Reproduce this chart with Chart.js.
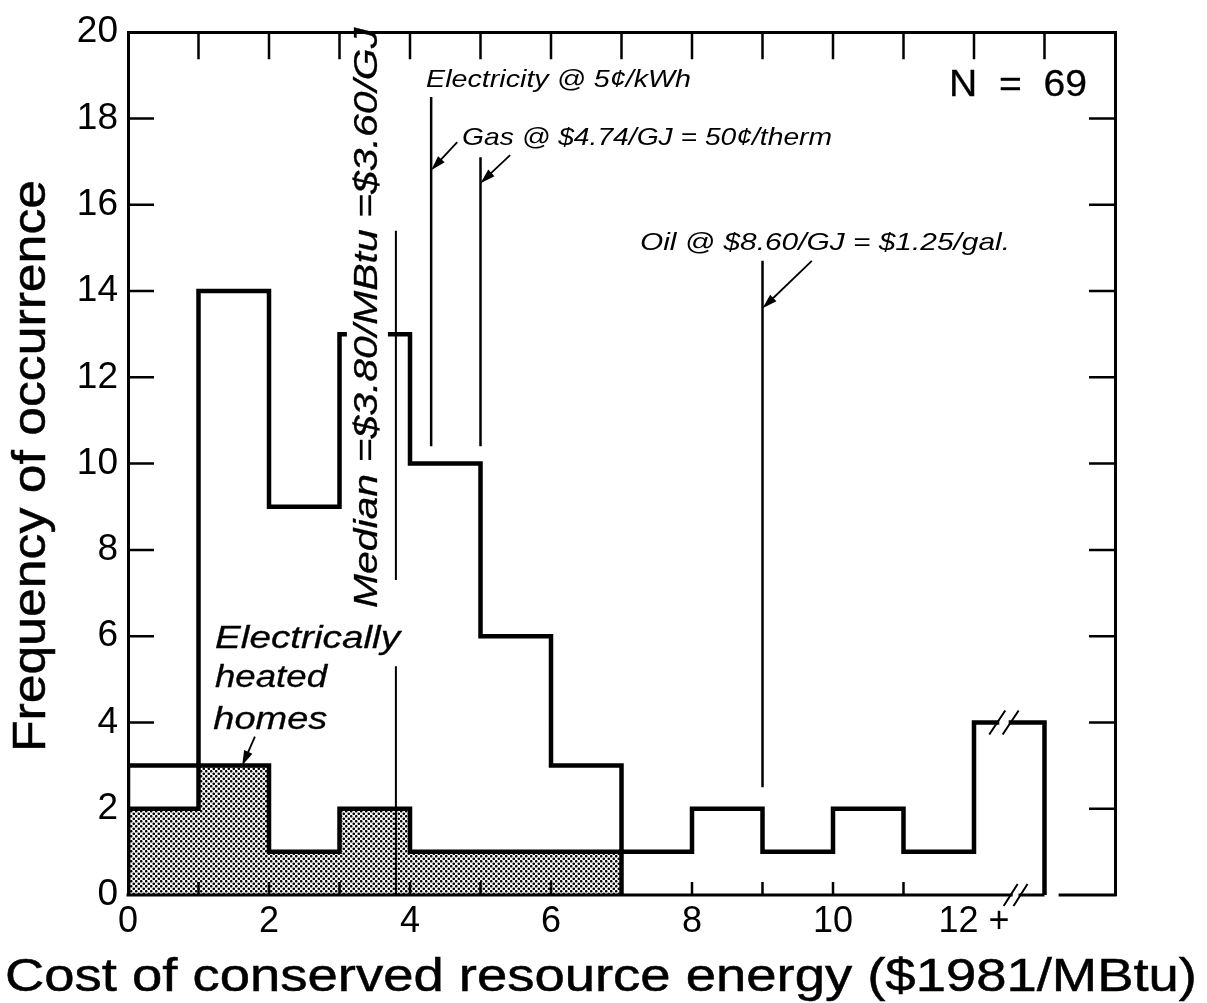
<!DOCTYPE html>
<html>
<head>
<meta charset="utf-8">
<title>Cost of conserved resource energy</title>
<script src="https://cdn.jsdelivr.net/npm/chart.js@4.4.1/dist/chart.umd.min.js"></script>
<style>
  html, body { margin: 0; padding: 0; background: #fff; }
  #wrap { width: 1207px; height: 1003px; }
</style>
</head>
<body>
<div id="wrap"><canvas id="c" width="1207" height="1003"></canvas></div>
<script>
// ---- data ($1981/MBtu bins, one unit wide; last bin is "12+") ----
const binStarts = [0, 1, 2, 3, 4, 5, 6, 7, 8, 9, 10, 11, 12];
const binWidth = 1;
const allHomes = [3, 14, 9, 13, 10, 6, 3, 1, 2, 1, 2, 1, 4];
const electricHomes = [2, 3, 1, 2, 1, 1, 1, 0, 0, 0, 0, 0, 0];

const xTickValues = [0, 2, 4, 6, 8, 10, 12];
const xTickLabels = ['0', '2', '4', '6', '8', '10', '12 +'];
const yTickValues = [0, 2, 4, 6, 8, 10, 12, 14, 16, 18, 20];

// reference costs ($/MBtu of resource energy)
const medianCost = 3.8;
const electricityCost = 4.3;
const gasCost = 5.0;
const oilCost = 9.0;
const sampleSize = 69;

const FONT = '"Liberation Sans", Arial, Helvetica, sans-serif';

// outline of a histogram as points for a stepped line
function stepPoints(starts, counts) {
  let n = counts.length;
  while (n > 0 && counts[n - 1] === 0) n--;
  const pts = [{ x: starts[0], y: 0 }];
  for (let i = 0; i < n; i++) pts.push({ x: starts[i], y: counts[i] });
  pts.push({ x: starts[n - 1] + binWidth, y: counts[n - 1] });
  pts.push({ x: starts[n - 1] + binWidth, y: 0 });
  return pts;
}

// stipple fill used for the electrically heated homes
function stipple() {
  const t = document.createElement('canvas');
  t.width = 5; t.height = 5;
  const g = t.getContext('2d');
  g.fillStyle = '#fff';
  g.fillRect(0, 0, 5, 5);
  g.fillStyle = '#000';
  [[1.25, 1.25], [3.75, 3.75]].forEach(([a, b]) => {
    g.beginPath(); g.arc(a, b, 1.3, 0, Math.PI * 2); g.fill();
  });
  return g.createPattern(t, 'repeat');
}

function fitText(ctx, text, x, y, width, size, italic, rotate, weight) {
  ctx.save();
  ctx.font = (italic ? 'italic ' : '') + size + 'px ' + FONT;
  ctx.textAlign = 'left';
  ctx.textBaseline = 'alphabetic';
  const w = ctx.measureText(text).width;
  ctx.translate(x, y);
  if (rotate) ctx.rotate(-Math.PI / 2);
  ctx.scale(width / w, 1);
  ctx.fillStyle = '#000';
  ctx.fillText(text, 0, 0);
  if (weight) {
    ctx.strokeStyle = '#000';
    ctx.lineWidth = weight;
    ctx.strokeText(text, 0, 0);
  }
  ctx.restore();
}

function arrow(ctx, x1, y1, x2, y2) {
  const a = Math.atan2(y2 - y1, x2 - x1);
  const L = 15, H = 4.5;
  ctx.save();
  ctx.lineWidth = 1.8;
  ctx.strokeStyle = '#000';
  ctx.fillStyle = '#000';
  ctx.beginPath();
  ctx.moveTo(x1, y1);
  ctx.lineTo(x2 - Math.cos(a) * L * 0.8, y2 - Math.sin(a) * L * 0.8);
  ctx.stroke();
  ctx.beginPath();
  ctx.moveTo(x2, y2);
  ctx.lineTo(x2 - Math.cos(a) * L - Math.sin(a) * H, y2 - Math.sin(a) * L + Math.cos(a) * H);
  ctx.lineTo(x2 - Math.cos(a) * L + Math.sin(a) * H, y2 - Math.sin(a) * L - Math.cos(a) * H);
  ctx.closePath();
  ctx.fill();
  ctx.restore();
}

const marks = {
  id: 'marks',
  afterDraw(chart) {
    const ctx = chart.ctx;
    const xs = chart.scales.x, ys = chart.scales.y;
    const X = v => xs.getPixelForValue(v);
    const Y = v => ys.getPixelForValue(v);
    const area = chart.chartArea;
    const lastCount = allHomes[allHomes.length - 1];

    ctx.save();
    ctx.strokeStyle = '#000';
    ctx.lineCap = 'butt';

    // bottom frame, broken after the open-ended bin
    ctx.lineWidth = 3;
    ctx.beginPath();
    ctx.moveTo(area.left - 1.5, area.bottom);
    ctx.lineTo(X(13), area.bottom);
    ctx.moveTo(X(13.2), area.bottom);
    ctx.lineTo(area.right + 1.5, area.bottom);
    ctx.stroke();

    // inward tick marks on all four sides
    ctx.lineWidth = 2.5;
    ctx.beginPath();
    chart.scales.xTop.ticks.forEach(t => {
      if (t.value <= xs.min || t.value >= xs.max) return;
      const px = X(t.value);
      ctx.moveTo(px, area.top); ctx.lineTo(px, area.top + 27);
    });
    chart.scales.xTop.ticks.forEach(t => {
      if (t.value <= xs.min || t.value >= 12) return;
      const px = X(t.value);
      ctx.moveTo(px, area.bottom); ctx.lineTo(px, area.bottom - 13);
    });
    ys.ticks.forEach(t => {
      if (t.value <= ys.min || t.value >= ys.max) return;
      const py = Y(t.value);
      ctx.moveTo(area.left, py); ctx.lineTo(area.left + 26, py);
      ctx.moveTo(area.right, py); ctx.lineTo(area.right - 26, py);
    });
    ctx.stroke();

    // axis break symbols on the 12+ bin
    const brk = (cx1, cx2, cy, dx, dy) => {
      ctx.fillStyle = '#fff';
      ctx.fillRect(cx1 + 2, cy - 3, cx2 - cx1 - 4, 6);
      ctx.lineWidth = 2;
      ctx.beginPath();
      [cx1, cx2].forEach(c => { ctx.moveTo(c - dx, cy + dy); ctx.lineTo(c + dx, cy - dy); });
      ctx.stroke();
    };
    brk(X(12.33), X(12.52), Y(lastCount), 8, 12);
    brk(X(12.52), X(12.66), Y(0), 7, 11);

    // median label (white ground interrupts the outline behind it)
    ctx.fillStyle = '#fff';
    ctx.fillRect(X(medianCost) - 49, Y(16.6), 41, Y(6.4) - Y(16.6));
    fitText(ctx, 'Median =$3.80/MBtu =$3.60/GJ', X(3.53), Y(6.65), Y(6.65) - Y(20.1), 34, true, true, 0.3);

    // reference cost lines
    ctx.strokeStyle = '#000';
    ctx.lineWidth = 2;
    ctx.beginPath();
    ctx.moveTo(X(medianCost), Y(15.4)); ctx.lineTo(X(medianCost), Y(7.3));
    ctx.moveTo(X(medianCost), Y(5.3)); ctx.lineTo(X(medianCost), Y(0));
    ctx.stroke();
    ctx.lineWidth = 2.5;
    ctx.beginPath();
    ctx.moveTo(X(electricityCost), Y(18.5)); ctx.lineTo(X(electricityCost), Y(10.4));
    ctx.moveTo(X(gasCost), Y(17.1)); ctx.lineTo(X(gasCost), Y(10.4));
    ctx.moveTo(X(oilCost), Y(14.7)); ctx.lineTo(X(oilCost), Y(2.5));
    ctx.stroke();

    arrow(ctx, X(4.67), Y(17.45), X(electricityCost), Y(16.8));
    arrow(ctx, X(5.42), Y(17.15), X(gasCost), Y(16.5));
    arrow(ctx, X(9.70), Y(14.7), X(oilCost), Y(13.6));
    arrow(ctx, X(1.80), Y(3.67), X(1.62), Y(electricHomes[1]));

    // annotations
    fitText(ctx, 'Electricity @ 5\u00A2/kWh', X(4.227), Y(18.74), 265, 24, true);
    fitText(ctx, 'Gas @ $4.74/GJ = 50\u00A2/therm', X(4.738), Y(17.39), 370, 24, true);
    fitText(ctx, 'Oil @ $8.60/GJ = $1.25/gal.', X(7.262), Y(14.95), 370, 24, true);
    fitText(ctx, 'N  =  ' + sampleSize, X(11.645), Y(18.53), 138, 37, false, false, 0.3);
    fitText(ctx, 'Electrically', X(1.234), Y(5.73), 185, 32, true, false, 0.3);
    fitText(ctx, 'heated', X(1.234), Y(4.82), 112, 32, true, false, 0.3);
    fitText(ctx, 'homes', X(1.21), Y(3.85), 114, 32, true, false, 0.3);

    // axis titles
    fitText(ctx, 'Cost of conserved resource energy ($1981/MBtu)', 5, 991, 1192, 46, false, false, 0.5);
    fitText(ctx, 'Frequency of occurrence', 45, 752, 572, 46, false, true, 0.5);
    ctx.restore();
  }
};

new Chart(document.getElementById('c'), {
  type: 'line',
  data: {
    datasets: [
      {
        label: 'All homes',
        data: stepPoints(binStarts, allHomes),
        stepped: 'before',
        borderColor: '#000',
        borderWidth: 4.5,
        borderJoinStyle: 'miter',
        borderCapStyle: 'butt',
        pointRadius: 0,
        fill: false,
        order: 1,
        xAxisID: 'x', yAxisID: 'y'
      },
      {
        label: 'Electrically heated homes',
        data: stepPoints(binStarts, electricHomes),
        stepped: 'before',
        borderColor: '#000',
        borderWidth: 4.5,
        borderJoinStyle: 'miter',
        borderCapStyle: 'butt',
        pointRadius: 0,
        backgroundColor: stipple(),
        fill: 'origin',
        order: 2,
        xAxisID: 'x', yAxisID: 'y'
      }
    ]
  },
  options: {
    responsive: false,
    devicePixelRatio: 1,
    animation: false,
    events: [],
    layout: { padding: { top: 23, right: 92, left: 0, bottom: 0 } },
    plugins: { legend: { display: false }, tooltip: { enabled: false } },
    scales: {
      x: {
        type: 'linear', position: 'bottom', min: 0, max: 14,
        afterBuildTicks: s => { s.ticks = xTickValues.map(v => ({ value: v })); },
        afterFit: s => { s.height = 108; },
        ticks: {
          autoSkip: false, maxRotation: 0, padding: 5, color: '#000',
          font: { family: FONT, size: 36 },
          callback: v => xTickLabels[xTickValues.indexOf(v)]
        },
        grid: { display: false, drawTicks: false },
        border: { display: false }
      },
      xTop: {
        type: 'linear', position: 'top', min: 0, max: 14,
        afterFit: s => { s.height = 0; },
        ticks: { display: false, stepSize: 1 },
        grid: { display: false, drawTicks: false },
        border: { display: true, width: 3, color: '#000' }
      },
      y: {
        type: 'linear', position: 'left', min: 0, max: 20,
        afterBuildTicks: s => { s.ticks = yTickValues.map(v => ({ value: v })); },
        afterFit: s => { s.width = 128; },
        ticks: { padding: 10, color: '#000', font: { family: FONT, size: 37 } },
        grid: { display: false, drawTicks: false },
        border: { display: true, width: 3, color: '#000' }
      },
      yRight: {
        type: 'linear', position: 'right', min: 0, max: 20,
        afterFit: s => { s.width = 0; },
        ticks: { display: false },
        grid: { display: false, drawTicks: false },
        border: { display: true, width: 3, color: '#000' }
      }
    }
  },
  plugins: [marks]
});
</script>
</body>
</html>
